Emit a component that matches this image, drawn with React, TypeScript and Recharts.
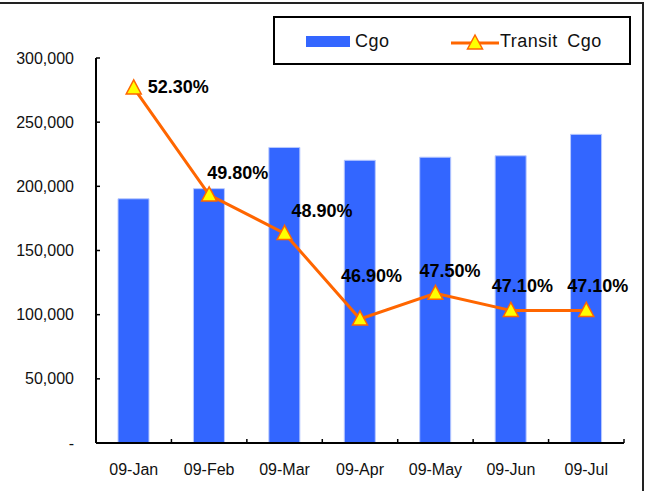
import React from 'react';
import {Bar, ComposedChart, LabelList, Line, XAxis, YAxis} from 'recharts';

const MONTHS = ['09-Jan', '09-Feb', '09-Mar', '09-Apr', '09-May', '09-Jun', '09-Jul'];
const CGO = [190300, 198200, 230300, 220300, 222700, 223800, 240500];
const TRANSIT_PCT = [52.3, 49.8, 48.9, 46.9, 47.5, 47.1, 47.1];
const CGO_TICKS = [0, 50000, 100000, 150000, 200000, 250000, 300000];
const PCT_DOMAIN = [44, 53];

const BAR_COLOR = '#3366FF';
const LINE_COLOR = '#FF6600';
const MARKER_FILL = '#FFFF00';
const FONT = '"Liberation Sans", Arial, sans-serif';

// hand-placed label offsets (left edge, vertical centre) relative to each point
const LABEL_OFFSETS = [
    {dx: 14, dy: -1},
    {dx: -2, dy: -22},
    {dx: 7, dy: -22},
    {dx: -19, dy: -43},
    {dx: -16, dy: -22},
    {dx: -19, dy: -24},
    {dx: -19, dy: -24},
];

const data = MONTHS.map((month, i) => ({month, cgo: CGO[i], transit: TRANSIT_PCT[i]}));

function formatCgo(value: number): string {
    return value === 0 ? '-' : value.toLocaleString('en-US');
}

function Triangle({cx, cy}: {cx?: number; cy?: number}) {
    if (cx == null || cy == null) return null;
    return (
        <polygon
            points={`${cx},${cy - 8} ${cx - 7.5},${cy + 6} ${cx + 7.5},${cy + 6}`}
            fill={MARKER_FILL}
            stroke={LINE_COLOR}
            strokeWidth={1.5}
        />
    );
}

function XTick(props: any) {
    const {x, y, payload, index} = props;
    const half = payload?.offset ?? 37.7;
    return (
        <g>
            <line x1={x - half} x2={x - half} y1={y} y2={y - 4} stroke="#000" strokeWidth={1.5}/>
            {index === MONTHS.length - 1 && (
                <line x1={x + half} x2={x + half} y1={y} y2={y - 4} stroke="#000" strokeWidth={1.5}/>
            )}
            <text x={x} y={y + 32} textAnchor="middle" fontSize={16} fontFamily={FONT} fill="#111">
                {payload.value}
            </text>
        </g>
    );
}

function YTick(props: any) {
    const {x, y, payload} = props;
    return (
        <g>
            <line x1={x} x2={x + 4} y1={y} y2={y} stroke="#000" strokeWidth={1.5}/>
            <text x={x - 22} y={y} textAnchor="end" dominantBaseline="central" fontSize={16} fontFamily={FONT} fill="#111">
                {formatCgo(payload.value)}
            </text>
        </g>
    );
}

function PctLabel(props: any) {
    const {x, y, value, index} = props;
    const off = LABEL_OFFSETS[index] ?? {dx: 0, dy: -20};
    return (
        <text
            x={x + off.dx}
            y={y + off.dy}
            dominantBaseline="central"
            fontSize={18}
            fontWeight="bold"
            fontFamily={FONT}
            fill="#000"
        >
            {`${Number(value).toFixed(2)}%`}
        </text>
    );
}

function LegendBox() {
    return (
        <div
            style={{
                position: 'absolute',
                left: 273,
                top: 16,
                width: 358,
                height: 49,
                border: '2px solid #000',
                boxSizing: 'border-box',
                background: '#fff',
                fontFamily: FONT,
                fontSize: 18,
                color: '#111',
            }}
        >
            <span style={{position: 'absolute', left: 31, top: 18, width: 44, height: 11, background: BAR_COLOR}}/>
            <span style={{position: 'absolute', left: 80, top: 12, lineHeight: '22px', letterSpacing: 0.5}}>Cgo</span>
            <svg style={{position: 'absolute', left: 176, top: 14}} width={48} height={20}>
                <line x1={0} x2={48} y1={11} y2={11} stroke={LINE_COLOR} strokeWidth={3}/>
                <polygon points="24,3 16.5,17 31.5,17" fill={MARKER_FILL} stroke={LINE_COLOR} strokeWidth={1.5}/>
            </svg>
            <span style={{position: 'absolute', left: 225, top: 12, lineHeight: '22px', letterSpacing: 0.5, wordSpacing: 4}}>
                Transit Cgo
            </span>
        </div>
    );
}

export default function App() {
    return (
        <div style={{position: 'absolute', left: 0, top: 0, width: 646, height: 491, overflow: 'hidden', background: '#fff'}}>
            <div
                style={{
                    position: 'absolute',
                    left: -2,
                    top: 2,
                    width: 646,
                    height: 500,
                    border: '2px solid #222',
                    boxSizing: 'border-box',
                }}
            />
            <ComposedChart
                width={646}
                height={491}
                data={data}
                margin={{top: 58, right: 22, bottom: 0, left: 0}}
            >
                <XAxis
                    dataKey="month"
                    height={48}
                    interval={0}
                    tickSize={0}
                    tickMargin={0}
                    tickLine={false}
                    axisLine={{stroke: '#000', strokeWidth: 2}}
                    tick={<XTick/>}
                />
                <YAxis
                    yAxisId="cgo"
                    width={96}
                    domain={[0, 300000]}
                    ticks={CGO_TICKS}
                    interval={0}
                    tickSize={0}
                    tickMargin={0}
                    tickLine={false}
                    axisLine={{stroke: '#000', strokeWidth: 2}}
                    tick={<YTick/>}
                />
                <YAxis yAxisId="pct" orientation="right" domain={PCT_DOMAIN} hide/>
                <Bar
                    yAxisId="cgo"
                    dataKey="cgo"
                    name="Cgo"
                    fill={BAR_COLOR}
                    stroke="#b8c9ff"
                    strokeWidth={1}
                    barSize={31}
                    isAnimationActive={false}
                />
                <Line
                    yAxisId="pct"
                    dataKey="transit"
                    name="Transit Cgo"
                    type="linear"
                    stroke={LINE_COLOR}
                    strokeWidth={3}
                    dot={<Triangle/>}
                    activeDot={false}
                    isAnimationActive={false}
                >
                    <LabelList dataKey="transit" content={<PctLabel/>}/>
                </Line>
            </ComposedChart>
            <LegendBox/>
        </div>
    );
}
